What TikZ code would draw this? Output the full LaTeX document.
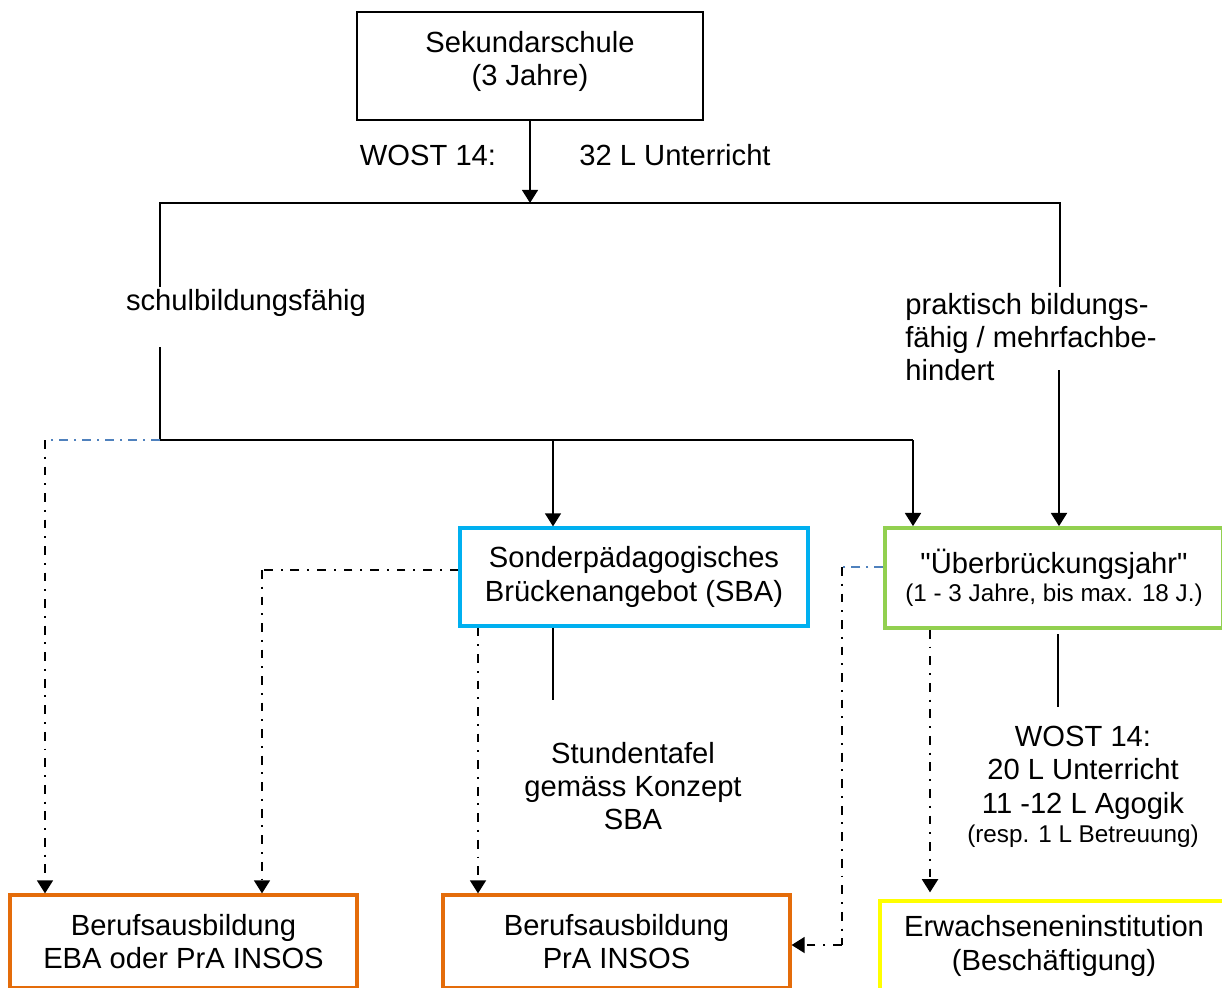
\documentclass[tikz,border=0pt]{standalone}
\usepackage{fontspec}
\setmainfont{Liberation Sans}[Ligatures=TeXOff]
\usetikzlibrary{arrows.meta}
\definecolor{sbablue}{RGB}{0,176,240}
\definecolor{uebgreen}{RGB}{146,208,80}
\definecolor{orangebox}{RGB}{228,108,10}
\definecolor{yellowbox}{RGB}{255,255,0}
\definecolor{linkblue}{RGB}{79,129,189}
\begin{document}
\begin{tikzpicture}[x=0.02cm,y=-0.02cm,
  every node/.style={font=\fontsize{16.6}{19}\selectfont, inner sep=0pt, align=center},
  box/.style={draw, rectangle, minimum width=6.94cm, minimum height=1.86cm},
  conn/.style={line width=1.35pt},
  arr/.style={conn, -{Triangle[length=7.5pt,width=9pt]}},
  dd/.style={line width=1.4pt, dash pattern=on 5pt off 4.5pt on 1.1pt off 4.5pt},
  ddarr/.style={dd, -{Triangle[length=7.5pt,width=9pt]}},
  bdd/.style={line width=1pt, linkblue, dash pattern=on 5pt off 3.5pt on 1.1pt off 3.5pt},
  smalltext/.style={font=\fontsize{13.8}{16}\selectfont}]
\path[use as bounding box, clip] (0,0) rectangle (1222,987);
\fill[white] (0,0) rectangle (1222,987);

% nodes
\node[box, line width=1.2pt, minimum width=6.92cm, minimum height=2.16cm] (sek) at (530,66) {};
\node (sekt) at (530,61.5) {Sekundarschule\\(3 Jahre)};
\node (wost) at (428,155) {WOST 14:};
\node (unt) at (675,155) {32 L Unterricht};
\node (schul) at (246,303) {schulbildungsfähig};
\node[anchor=west, align=left] (prak) at (905,337) {praktisch bildungs-\\fähig / mehrfachbe-\\hindert};
\node[box, draw=sbablue, line width=1.8pt, minimum width=6.96cm, minimum height=1.96cm] (sba) at (634,577) {Sonderpädagogisches\\Brückenangebot (SBA)};
\node[box, draw=uebgreen, line width=2.1pt, minimum width=6.76cm, minimum height=2cm] (ueb) at (1054,578) {"Überbrückungsjahr"\\[-3pt]{\fontsize{13.8}{16}\selectfont (1 - 3 Jahre, bis max. 18 J.)}};
\node (tafel) at (633,786) {Stundentafel\\gemäss Konzept\\SBA};
\node (wost2) at (1083,787) {WOST 14:\\20 L Unterricht\\11 -12 L Agogik\\[-2pt]{\fontsize{13.8}{16}\selectfont (resp. 1 L Betreuung)}};
\node[box, draw=orangebox, line width=1.8pt] (eba) at (183.5,941.5) {Berufsausbildung\\EBA oder PrA INSOS};
\node[box, draw=orangebox, line width=1.8pt] (pra) at (616.5,941.5) {Berufsausbildung\\PrA INSOS};
\node[box, draw=yellowbox, line width=1.8pt, minimum width=6.96cm, minimum height=1.8cm] (erw) at (1054,946) {Erwachseneninstitution\\(Beschäftigung)};

% coordinates
\coordinate (h1m) at (530,203);
\coordinate (h1l) at (160,203);
\coordinate (h1r) at (1060,203);
\coordinate (s1) at (160,287);
\coordinate (p1) at (1060,287);
\coordinate (s2) at (160,347);
\coordinate (h2l) at (160,440);
\coordinate (h2r) at (913,440);
\coordinate (h2m) at (553,440);
\coordinate (bl) at (45,440);
\coordinate (pk) at (1059,370);
\coordinate (c1) at (262,570);
\coordinate (c2) at (478,626);
\coordinate (sbaline) at (553,700);
\coordinate (ub) at (842,567);
\coordinate (ubd) at (842,945);
\coordinate (uc) at (930,628);
\coordinate (ulinetop) at (1058,634);
\coordinate (uline) at (1058,707);

% connectors
\draw[arr] (sek.south) -- (h1m);
\draw[conn] (s1) -- (h1l) -- (h1r) -- (p1);
\draw[conn] (s2) -- (h2l) -- (h2r);
\draw[arr] (h2m) -- (h2m |- sba.north);
\draw[arr] (h2r) -- (h2r |- ueb.north);
\draw[arr] (pk) -- (pk |- ueb.north);
\draw[bdd] (h2l) -- (bl);
\draw[ddarr] (bl) -- (bl |- eba.north);
\draw[dd] (sba.west |- c1) -- (c1);
\draw[ddarr] (c1) -- (c1 |- eba.north);
\draw[ddarr] (c2 |- sba.south) -- (c2 |- pra.north);
\draw[conn] (sbaline |- sba.south) -- (sbaline);
\draw[bdd] (ueb.west |- ub) -- (ub);
\draw[dd] (ub) -- (ubd);
\draw[ddarr] (ubd) -- (ubd -| pra.east);
\draw[ddarr, shorten >=4pt] (uc |- ueb.south) -- (uc |- erw.north);
\draw[conn] (ulinetop) -- (uline);
\end{tikzpicture}
\end{document}
